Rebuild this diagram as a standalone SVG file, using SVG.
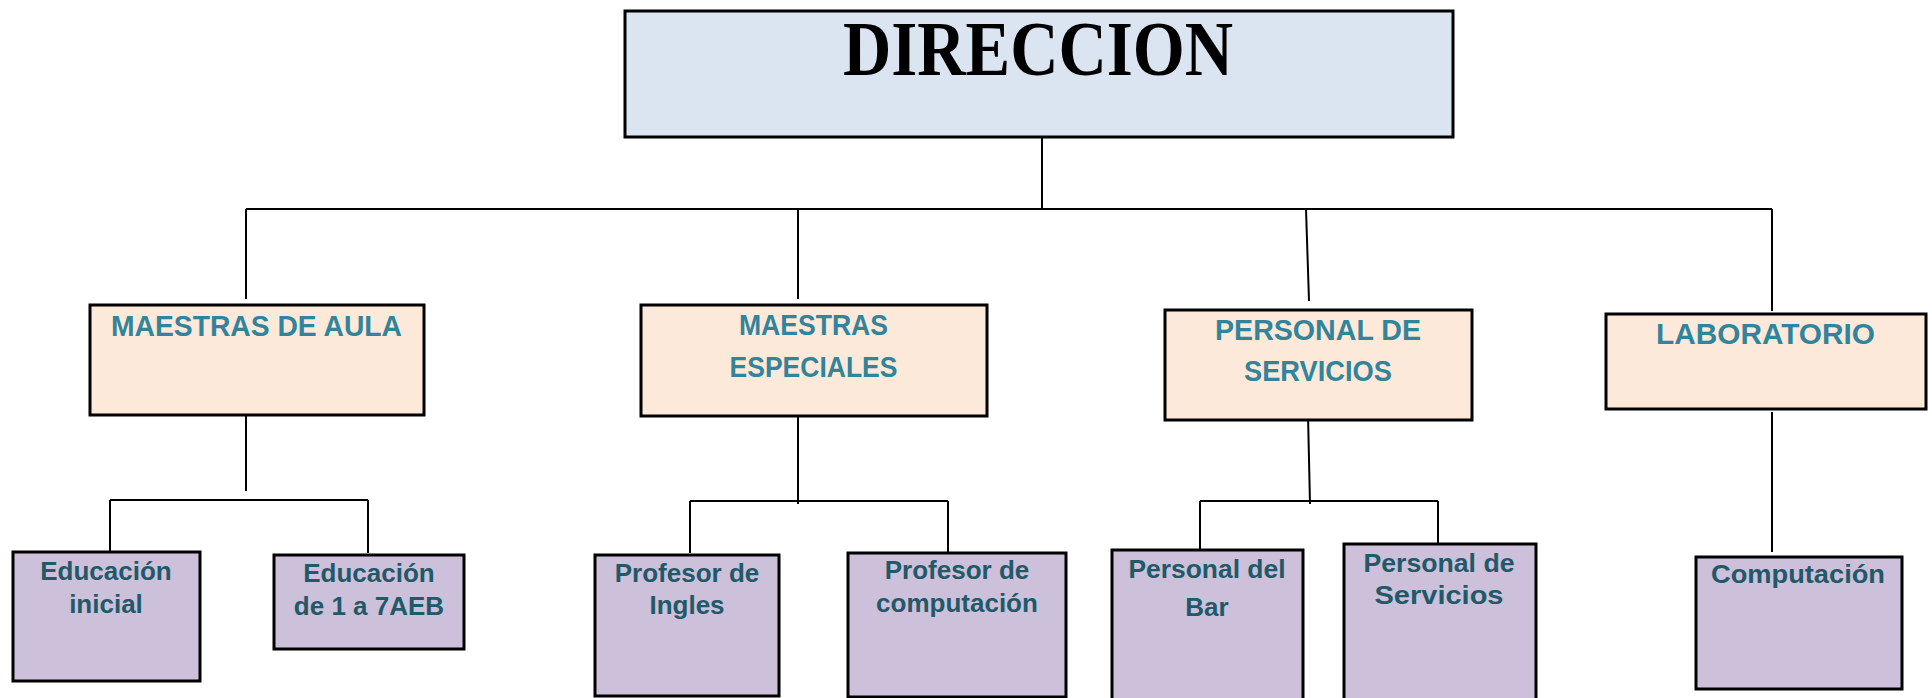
<svg xmlns="http://www.w3.org/2000/svg" width="1932" height="698" viewBox="0 0 1932 698">
<style>
.box{stroke:#000;stroke-width:3}
.top{fill:#dbe5f1}
.l2{fill:#fde9d9}
.l3{fill:#ccc0da}
.conn{stroke:#000;stroke-width:2;fill:none}
.t0{font-family:"Liberation Serif","Times New Roman",serif;font-weight:bold;font-size:78px;fill:#000;text-anchor:middle}
.t2{font-family:"Liberation Sans",Arial,sans-serif;font-weight:bold;font-size:29px;fill:#31849b;text-anchor:middle}
.t3{font-family:"Liberation Sans",Arial,sans-serif;font-weight:bold;font-size:26px;fill:#215968;text-anchor:middle}
</style>
<rect width="1932" height="698" fill="#fff"/>
<g id="connectors">
<path class="conn" d="M1042 137V209M246 209H1772M246 209V299M798 209V299M1306 209L1309 301M1772 209V311"/>
<path class="conn" d="M246 412V491M110 500H368M110 500V552M368 500V553"/>
<path class="conn" d="M798 415V504M690 501H948M690 501V553M948 501V552"/>
<path class="conn" d="M1308 415L1310 504M1200 501H1438M1200 501V552M1438 501V552"/>
<path class="conn" d="M1772 412V552"/>
</g>
<g id="direccion">
<rect class="box top" x="625" y="11" width="828" height="126"/>
<text class="t0" x="1038" y="75" textLength="390" lengthAdjust="spacingAndGlyphs">DIRECCION</text>
</g>
<g id="maestras-aula">
<rect class="box l2" x="90" y="305" width="334" height="110"/>
<text class="t2" x="256.5" y="336" textLength="291" lengthAdjust="spacingAndGlyphs">MAESTRAS DE AULA</text>
</g>
<g id="maestras-especiales">
<rect class="box l2" x="641" y="305" width="346" height="111"/>
<text class="t2" x="813.5" y="335" textLength="149" lengthAdjust="spacingAndGlyphs">MAESTRAS</text>
<text class="t2" x="813.5" y="377" textLength="168" lengthAdjust="spacingAndGlyphs">ESPECIALES</text>
</g>
<g id="personal-servicios">
<rect class="box l2" x="1165" y="310" width="307" height="110"/>
<text class="t2" x="1318" y="340" textLength="206" lengthAdjust="spacingAndGlyphs">PERSONAL DE</text>
<text class="t2" x="1318" y="381" textLength="148" lengthAdjust="spacingAndGlyphs">SERVICIOS</text>
</g>
<g id="laboratorio">
<rect class="box l2" x="1606" y="314" width="320" height="95"/>
<text class="t2" x="1765.5" y="344" textLength="219" lengthAdjust="spacingAndGlyphs">LABORATORIO</text>
</g>
<g id="educacion-inicial">
<rect class="box l3" x="13" y="552" width="187" height="129"/>
<text class="t3" x="106" y="580">Educación</text>
<text class="t3" x="106" y="613">inicial</text>
</g>
<g id="educacion-1-7">
<rect class="box l3" x="274" y="555" width="190" height="94"/>
<text class="t3" x="369" y="582">Educación</text>
<text class="t3" x="369" y="615">de 1 a 7AEB</text>
</g>
<g id="profesor-ingles">
<rect class="box l3" x="595" y="555" width="184" height="141"/>
<text class="t3" x="687" y="582">Profesor de</text>
<text class="t3" x="687" y="614">Ingles</text>
</g>
<g id="profesor-computacion">
<rect class="box l3" x="848" y="553" width="218" height="144"/>
<text class="t3" x="957" y="579">Profesor de</text>
<text class="t3" x="957" y="612">computación</text>
</g>
<g id="personal-bar">
<rect class="box l3" x="1112" y="550" width="191" height="152"/>
<text class="t3" x="1207" y="578" textLength="157" lengthAdjust="spacingAndGlyphs">Personal del</text>
<text class="t3" x="1207" y="616">Bar</text>
</g>
<g id="personal-de-servicios">
<rect class="box l3" x="1344" y="544" width="192" height="158"/>
<text class="t3" x="1439" y="572" textLength="151" lengthAdjust="spacingAndGlyphs">Personal de</text>
<text class="t3" x="1439" y="604" textLength="129" lengthAdjust="spacingAndGlyphs">Servicios</text>
</g>
<g id="computacion">
<rect class="box l3" x="1696" y="557" width="206" height="132"/>
<text class="t3" x="1798" y="583" textLength="174" lengthAdjust="spacingAndGlyphs">Computación</text>
</g>
</svg>
